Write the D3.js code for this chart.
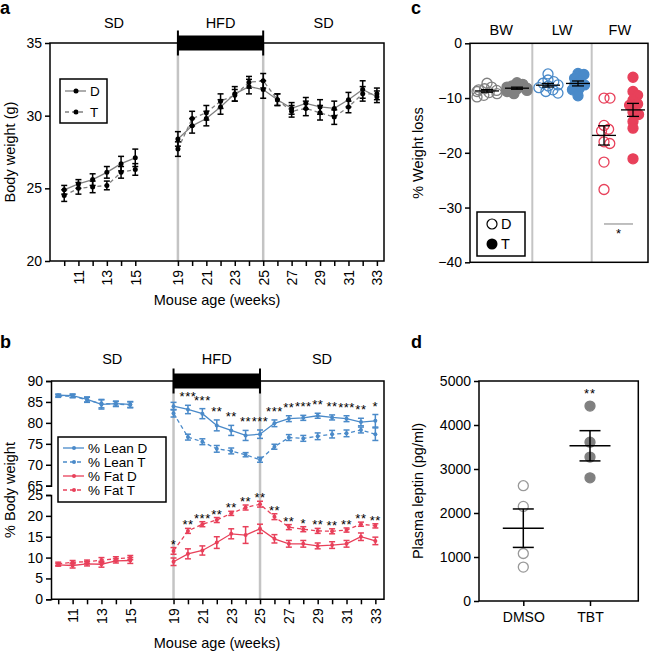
<!DOCTYPE html>
<html>
<head>
<meta charset="utf-8">
<script src="https://cdn.jsdelivr.net/npm/d3@7"></script>
<style>
  body { margin: 0; background: #fff; }
  svg { font-family: "Liberation Sans", Arial, sans-serif; }
  .axis text { font-size: 14px; fill: #000; }
  .axis path, .axis line { stroke: #000; stroke-width: 1.5px; }
</style>
</head>
<body>
<div id="chart"></div>
<script>
// Weeks on the x axis (16-18 are skipped)
var weeks = [10, 11, 12, 13, 14, 15, 19, 20, 21, 22, 23, 24, 25, 26, 27, 28, 29, 30, 31, 32, 33];

// Panel a - body weight (g)
var bodyD    = [24.9, 25.3, 25.6, 26.1, 26.7, 27.1, 28.4, 29.3, 29.8, 30.6, 31.5, 32.0, 31.8, 31.1, 30.5, 30.85, 30.6, 30.5, 31.1, 31.8, 31.3];
var bodyDErr = [0.3, 0.3, 0.4, 0.4, 0.5, 0.6, 0.5, 0.5, 0.5, 0.5, 0.5, 0.5, 0.6, 0.4, 0.4, 0.4, 0.5, 0.5, 0.5, 0.6, 0.4];
var bodyT    = [24.5, 25.0, 25.1, 25.2, 26.1, 26.3, 27.7, 29.8, 30.2, 31.0, 31.4, 32.3, 32.4, 31.1, 30.3, 30.5, 30.2, 29.9, 30.6, 31.5, 31.5];
var bodyTErr = [0.4, 0.4, 0.4, 0.3, 0.4, 0.4, 0.5, 0.5, 0.5, 0.5, 0.4, 0.4, 0.5, 0.4, 0.4, 0.5, 0.5, 0.5, 0.4, 0.5, 0.4];

// Panel b - % body weight
var leanD    = [86.6, 86.5, 85.6, 84.4, 84.6, 84.4, 84.0, 83.2, 82.2, 79.4, 78.2, 77.0, 77.3, 79.9, 81.0, 81.2, 81.7, 81.3, 81.0, 80.2, 80.5];
var leanDErr = [0.3, 0.4, 0.6, 1.1, 0.6, 0.7, 0.9, 1.0, 1.2, 1.3, 1.2, 1.2, 1.0, 0.8, 0.7, 0.6, 0.6, 0.6, 0.7, 0.9, 1.5];
var leanT    = [86.4, 86.4, 85.5, 84.6, 84.5, 84.3, 82.3, 76.6, 75.5, 73.8, 73.3, 72.4, 71.2, 74.3, 76.5, 76.3, 76.8, 77.3, 77.5, 78.3, 77.3];
var leanTErr = [0.3, 0.4, 0.6, 1.0, 0.6, 0.7, 0.9, 0.7, 0.7, 0.8, 0.7, 0.5, 0.6, 0.6, 0.7, 0.7, 0.8, 0.9, 0.8, 0.7, 1.5];
var fatD     = [8.25, 8.1, 8.5, 8.4, 9.2, 9.3, 9.0, 10.9, 11.7, 13.6, 15.7, 15.4, 16.9, 14.5, 13.3, 13.3, 12.8, 13.0, 13.3, 15.0, 14.0];
var fatDErr  = [0.3, 0.6, 0.5, 0.7, 0.5, 0.7, 0.9, 1.2, 1.1, 1.4, 1.2, 2.0, 1.1, 1.0, 0.8, 0.8, 0.7, 0.8, 0.8, 0.9, 0.9];
var fatT     = [8.5, 8.9, 9.0, 9.4, 9.7, 10.0, 11.6, 16.4, 18.0, 19.0, 20.6, 22.0, 22.8, 19.8, 17.3, 16.8, 16.4, 16.3, 16.6, 18.0, 17.6];
var fatTErr  = [0.4, 0.4, 0.4, 0.6, 0.5, 0.5, 0.8, 0.6, 0.6, 0.6, 0.5, 0.6, 0.7, 0.7, 0.6, 0.6, 0.6, 0.6, 0.5, 0.5, 0.5];
var leanStars = ["", "", "", "", "", "", "", "***", "***", "**", "**", "**", "***", "***", "**", "***", "**", "**", "***", "**", "*"];
var fatStars  = ["", "", "", "", "", "", "*", "**", "***", "**", "**", "**", "**", "**", "**", "*", "**", "**", "**", "**", "**"];

// Panel c - % weight loss
var bwLossD = [-7.3, -8.0, -8.3, -8.6, -8.8, -9.0, -9.2, -9.5, -9.8, -8.5];
var bwLossT = [-7.2, -7.5, -7.8, -8.0, -8.2, -8.4, -8.6, -8.8, -9.2, -8.3];
var lwLossD = [-5.6, -6.7, -7.0, -7.3, -7.6, -7.8, -8.1, -8.5, -9.1, -8.8];
var lwLossT = [-5.5, -5.7, -6.4, -6.9, -7.6, -7.5, -8.3, -8.5, -9.6];
var fwLossD = [-10.0, -10.0, -15.0, -15.7, -16.0, -18.0, -18.3, -21.7, -26.7];
var fwLossT = [-6.2, -8.8, -9.5, -10.4, -11.1, -11.3, -12.6, -13.0, -14.3, -15.5, -21.1];

// Panel d - plasma leptin (pg/ml)
var leptinGroups = ["DMSO", "TBT"];
var leptinDMSO = [2620, 2150, 1080, 770];
var leptinTBT  = [4430, 3610, 3270, 2800];

var blue = "#4a8ac9", red = "#e8405a", grey = "#808080", lightGrey = "#c4c4c4";

var svg = d3.select("#chart").append("svg")
    .attr("width", 650)
    .attr("height", 652);

function idx(w) { return w <= 15 ? w - 10 : w - 11; }

function panelLetter(t, x, y) {
    svg.append("text").attr("x", x).attr("y", y)
        .style("font-size", "18px").style("font-weight", "bold").text(t);
}

function label(g, t, x, y, size, anchor) {
    return g.append("text").attr("x", x).attr("y", y)
        .style("font-size", (size || 14.5) + "px")
        .style("text-anchor", anchor || "middle")
        .text(t);
}

function yLabel(g, t, x, y) {
    g.append("text")
        .attr("transform", "translate(" + x + "," + y + ") rotate(-90)")
        .attr("dy", "0.35em")
        .style("font-size", "14.5px")
        .style("text-anchor", "middle")
        .text(t);
}

// week axis shared by a and b
function weekAxis(g, x, yPos) {
    var ax = g.append("g").attr("class", "axis")
        .attr("transform", "translate(0," + yPos + ")")
        .call(d3.axisBottom(x)
            .tickValues(weeks.map(idx))
            .tickFormat(function(d, i) { return weeks[i] % 2 ? weeks[i] : ""; })
            .tickSize(5).tickSizeOuter(0));
    ax.select(".domain").remove();
    ax.selectAll("text")
        .attr("transform", "rotate(-90)")
        .attr("x", -9).attr("y", 0).attr("dy", "0.35em")
        .style("text-anchor", "end");
}

// diet header: SD / HFD / SD with black bar
function dietHeader(g, x, yTop, left, right, textY) {
    var x19 = x(idx(19)), x25 = x(idx(25));
    g.append("rect").attr("x", x19).attr("y", yTop - 7.5)
        .attr("width", x25 - x19).attr("height", 15).attr("fill", "#000");
    [x19, x25].forEach(function(xx) {
        g.append("line").attr("x1", xx).attr("x2", xx)
            .attr("y1", yTop - 12.5).attr("y2", yTop + 12.5)
            .attr("stroke", "#000").attr("stroke-width", 2);
    });
    label(g, "SD", (left + x19) / 2, textY);
    label(g, "HFD", (x19 + x25) / 2, textY);
    label(g, "SD", (x25 + right) / 2, textY);
}

function greyLines(g, x, y1, y2) {
    [19, 25].forEach(function(w) {
        g.append("line").attr("x1", x(idx(w))).attr("x2", x(idx(w)))
            .attr("y1", y1).attr("y2", y2)
            .attr("stroke", lightGrey).attr("stroke-width", 2.5);
    });
}

// series with error bars, split at the week gap
function drawSeries(g, x, y, vals, errs, o) {
    var pts = weeks.map(function(w, i) { return {w: w, v: vals[i], e: errs[i]}; });
    var segs = [pts.filter(function(p) { return p.w <= 15; }), pts.filter(function(p) { return p.w > 15; })];
    var line = d3.line().x(function(p) { return x(idx(p.w)); }).y(function(p) { return y(p.v); });
    segs.forEach(function(s) {
        g.append("path").datum(s).attr("d", line)
            .attr("fill", "none").attr("stroke", o.line)
            .attr("stroke-width", o.lw || 1.3)
            .attr("stroke-dasharray", o.dash || null);
    });
    var eb = g.selectAll(null).data(pts).enter().append("g")
        .attr("stroke", o.bar).attr("stroke-width", 1.5);
    eb.append("line")
        .attr("x1", function(p) { return x(idx(p.w)); }).attr("x2", function(p) { return x(idx(p.w)); })
        .attr("y1", function(p) { return y(p.v - p.e); }).attr("y2", function(p) { return y(p.v + p.e); });
    [-1, 1].forEach(function(s) {
        eb.append("line")
            .attr("x1", function(p) { return x(idx(p.w)) - 3; }).attr("x2", function(p) { return x(idx(p.w)) + 3; })
            .attr("y1", function(p) { return y(p.v + s * p.e); }).attr("y2", function(p) { return y(p.v + s * p.e); });
    });
    g.selectAll(null).data(pts).enter().append("circle")
        .attr("cx", function(p) { return x(idx(p.w)); })
        .attr("cy", function(p) { return y(p.v); })
        .attr("r", o.r || 2.5).attr("fill", o.bar);
}

function legendRow(g, x, y, color, dash, text, r) {
    g.append("line").attr("x1", x).attr("x2", x + 21).attr("y1", y).attr("y2", y)
        .attr("stroke", color).attr("stroke-width", 1.3).attr("stroke-dasharray", dash || null);
    g.append("circle").attr("cx", x + 11).attr("cy", y).attr("r", r).attr("fill", color === grey ? "#000" : color);
    g.append("text").attr("x", x + 25).attr("y", y).attr("dy", "0.36em")
        .style("font-size", "13.5px").text(text);
}

// ---------------- Panel a ----------------
var gA = svg.append("g");
var xA = d3.scaleLinear().domain([-1, 22.5]).range([50, 384]);
var yA = d3.scaleLinear().domain([20, 35]).range([261, 43]);

greyLines(gA, xA, 43, 261);
gA.append("rect").attr("x", 50).attr("y", 43).attr("width", 334).attr("height", 218)
    .attr("fill", "none").attr("stroke", "#000").attr("stroke-width", 1.5);
var ayA = gA.append("g").attr("class", "axis").attr("transform", "translate(50,0)")
    .call(d3.axisLeft(yA).tickValues([20, 25, 30, 35]).tickSize(5).tickSizeOuter(0));
ayA.select(".domain").remove();
weekAxis(gA, xA, 261);
dietHeader(gA, xA, 43, 50, 384, 28);

drawSeries(gA, xA, yA, bodyT, bodyTErr, {line: grey, bar: "#000", dash: "4,3"});
drawSeries(gA, xA, yA, bodyD, bodyDErr, {line: grey, bar: "#000"});

gA.append("rect").attr("x", 60).attr("y", 79).attr("width", 47).attr("height", 44)
    .attr("fill", "#fff").attr("stroke", "#000").attr("stroke-width", 1.5);
legendRow(gA, 65, 91, grey, null, "D", 2.5);
legendRow(gA, 65, 112, grey, "4,3", "T", 2.5);

yLabel(gA, "Body weight (g)", 10, 152);
label(gA, "Mouse age (weeks)", 217, 305, 14.5);
panelLetter("a", 0, 14);

// ---------------- Panel b ----------------
var gB = svg.append("g");
var xB = d3.scaleLinear().domain([-0.5, 22.6]).range([51, 384]);
var yLean = d3.scaleLinear().domain([65, 90]).range([485.7, 381]);
var yFat = d3.scaleLinear().domain([0, 25]).range([599.3, 495]);

greyLines(gB, xB, 381, 599.3);
gB.append("path")
    .attr("d", "M51,381H384V599.3H51")
    .attr("fill", "none").attr("stroke", "#000").attr("stroke-width", 1.5);
gB.append("g").attr("class", "axis").attr("transform", "translate(51,0)")
    .call(d3.axisLeft(yLean).tickValues([65, 70, 75, 80, 85, 90]).tickSize(5).tickSizeOuter(5));
gB.append("g").attr("class", "axis").attr("transform", "translate(51,0)")
    .call(d3.axisLeft(yFat).tickValues([0, 5, 10, 15, 20, 25]).tickSize(5).tickSizeOuter(5));
weekAxis(gB, xB, 599.3);
dietHeader(gB, xB, 381, 51, 384, 364);

drawSeries(gB, xB, yLean, leanT, leanTErr, {line: blue, bar: blue, dash: "4,3", r: 2});
drawSeries(gB, xB, yLean, leanD, leanDErr, {line: blue, bar: blue, r: 2});
drawSeries(gB, xB, yFat, fatT, fatTErr, {line: red, bar: red, dash: "4,3", r: 2});
drawSeries(gB, xB, yFat, fatD, fatDErr, {line: red, bar: red, r: 2});

// significance stars
weeks.forEach(function(w, i) {
    if (leanStars[i]) {
        gB.append("text").attr("x", xB(idx(w))).attr("y", yLean(leanD[i] + leanDErr[i]) - 4)
            .style("font-size", "13px").style("letter-spacing", "0.5px")
            .style("text-anchor", "middle").text(leanStars[i]);
    }
    if (fatStars[i]) {
        gB.append("text").attr("x", xB(idx(w))).attr("y", yFat(fatT[i] + fatTErr[i]) + 1)
            .style("font-size", "13px").style("letter-spacing", "0.5px")
            .style("text-anchor", "middle").text(fatStars[i]);
    }
});

gB.append("rect").attr("x", 58).attr("y", 437).attr("width", 108).attr("height", 65)
    .attr("fill", "#fff").attr("stroke", "#000").attr("stroke-width", 1.5);
legendRow(gB, 63, 448, blue, null, "% Lean D", 2);
legendRow(gB, 63, 462, blue, "4,3", "% Lean T", 2);
legendRow(gB, 63, 476, red, null, "% Fat D", 2);
legendRow(gB, 63, 490, red, "4,3", "% Fat T", 2);

yLabel(gB, "% Body weight", 10, 490);
label(gB, "Mouse age (weeks)", 217, 648, 14.5);
panelLetter("b", 0, 348);

// ---------------- Panel c ----------------
var gC = svg.append("g");
var yC = d3.scaleLinear().domain([-40, 0]).range([262.3, 43.3]);
var cLeft = 470, cRight = 648;
var sep1 = 532.3, sep2 = 591.7;

[sep1, sep2].forEach(function(s) {
    gC.append("line").attr("x1", s).attr("x2", s).attr("y1", 43.3).attr("y2", 262.3)
        .attr("stroke", lightGrey).attr("stroke-width", 2);
});
gC.append("rect").attr("x", cLeft).attr("y", 43.3).attr("width", cRight - cLeft).attr("height", 219)
    .attr("fill", "none").attr("stroke", "#000").attr("stroke-width", 1.5);
var ayC = gC.append("g").attr("class", "axis").attr("transform", "translate(" + cLeft + ",0)")
    .call(d3.axisLeft(yC).tickValues([-40, -30, -20, -10, 0]).tickSize(5)
        .tickFormat(function(d) { return d < 0 ? "\u2212" + Math.abs(d) : d; }));
ayC.select(".domain").remove();

label(gC, "BW", (cLeft + sep1) / 2, 35);
label(gC, "LW", (sep1 + sep2) / 2, 35);
label(gC, "FW", (sep2 + cRight) / 2, 35);

var cGroups = [
    {vals: bwLossD, cx: 487, color: grey, open: true},
    {vals: bwLossT, cx: 517, color: grey, open: false},
    {vals: lwLossD, cx: 548, color: blue, open: true},
    {vals: lwLossT, cx: 578, color: blue, open: false},
    {vals: fwLossD, cx: 604, color: red, open: true},
    {vals: fwLossT, cx: 633, color: red, open: false}
];

// simple beeswarm so the dots spread sideways (clamped to the column)
function swarm(vals, cx, y, dmin, maxOff) {
    var placed = [];
    vals.slice().sort(d3.descending).forEach(function(v) {
        var py = y(v);
        var cands = [0];
        placed.forEach(function(q) {
            var dy = Math.abs(q.y - py);
            if (dy < dmin) {
                var dx = Math.sqrt(dmin * dmin - dy * dy);
                cands.push(q.dx + dx, q.dx - dx);
            }
        });
        cands.sort(function(a, b) { return Math.abs(a) - Math.abs(b); });
        var best = cands.find(function(c) {
            return placed.every(function(q) {
                return Math.hypot(q.dx - c, q.y - py) >= dmin - 0.01;
            });
        });
        best = Math.max(-maxOff, Math.min(maxOff, best));
        placed.push({dx: best, y: py, v: v});
    });
    return placed.map(function(p) { return {x: cx + p.dx, y: p.y}; });
}

cGroups.forEach(function(grp) {
    var pts = swarm(grp.vals, grp.cx, yC, 6, 10);
    gC.selectAll(null).data(pts).enter().append("circle")
        .attr("cx", function(p) { return p.x; }).attr("cy", function(p) { return p.y; })
        .attr("r", 5)
        .attr("fill", grp.open ? "none" : grp.color)
        .attr("stroke", grp.color).attr("stroke-width", 1.3);
    var m = d3.mean(grp.vals), se = d3.deviation(grp.vals) / Math.sqrt(grp.vals.length);
    var eg = gC.append("g").attr("stroke", "#000").attr("stroke-width", 1.3);
    eg.append("line").attr("x1", grp.cx - 12).attr("x2", grp.cx + 12).attr("y1", yC(m)).attr("y2", yC(m));
    eg.append("line").attr("x1", grp.cx).attr("x2", grp.cx).attr("y1", yC(m - se)).attr("y2", yC(m + se));
    [m - se, m + se].forEach(function(v) {
        eg.append("line").attr("x1", grp.cx - 6).attr("x2", grp.cx + 6).attr("y1", yC(v)).attr("y2", yC(v));
    });
});

gC.append("line").attr("x1", 604).attr("x2", 633).attr("y1", yC(-33)).attr("y2", yC(-33))
    .attr("stroke", "#aaa").attr("stroke-width", 1.5);
label(gC, "*", 618.5, yC(-33) + 14, 13);

gC.append("rect").attr("x", 477).attr("y", 212).attr("width", 48).attr("height", 44)
    .attr("fill", "#fff").attr("stroke", "#000").attr("stroke-width", 1.5);
gC.append("circle").attr("cx", 492).attr("cy", 224).attr("r", 5)
    .attr("fill", "none").attr("stroke", "#000").attr("stroke-width", 1.2);
gC.append("circle").attr("cx", 492).attr("cy", 244).attr("r", 5.5).attr("fill", "#000");
label(gC, "D", 501, 229, 14.5, "start");
label(gC, "T", 501, 249, 14.5, "start");

yLabel(gC, "% Weight loss", 418, 153);
panelLetter("c", 411, 14);

// ---------------- Panel d ----------------
var gD = svg.append("g");
var xD = d3.scalePoint().domain(leptinGroups).range([523.3, 590]);
var yD = d3.scaleLinear().domain([0, 5000]).range([601, 381]);

gD.append("rect").attr("x", 479).attr("y", 381).attr("width", 159.3).attr("height", 220)
    .attr("fill", "none").attr("stroke", "#000").attr("stroke-width", 1.5);
var ayD = gD.append("g").attr("class", "axis").attr("transform", "translate(479,0)")
    .call(d3.axisLeft(yD).tickValues([0, 1000, 2000, 3000, 4000, 5000]).tickSize(5)
        .tickFormat(d3.format("d")));
ayD.select(".domain").remove();
var axD = gD.append("g").attr("class", "axis").attr("transform", "translate(0,601)")
    .call(d3.axisBottom(xD).tickSize(5).tickPadding(6));
axD.select(".domain").remove();
axD.selectAll("text").style("font-size", "14px");

[{name: "DMSO", vals: leptinDMSO, open: true}, {name: "TBT", vals: leptinTBT, open: false}].forEach(function(grp) {
    var cx = xD(grp.name);
    gD.selectAll(null).data(grp.vals).enter().append("circle")
        .attr("cx", cx).attr("cy", function(v) { return yD(v); })
        .attr("r", 5)
        .attr("fill", grp.open ? "none" : grey)
        .attr("stroke", grp.open ? "#999" : grey).attr("stroke-width", 1.3);
    var m = d3.mean(grp.vals), se = d3.deviation(grp.vals) / Math.sqrt(grp.vals.length);
    var eg = gD.append("g").attr("stroke", "#000").attr("stroke-width", 1.5);
    eg.append("line").attr("x1", cx - 20.5).attr("x2", cx + 20.5).attr("y1", yD(m)).attr("y2", yD(m));
    eg.append("line").attr("x1", cx).attr("x2", cx).attr("y1", yD(m - se)).attr("y2", yD(m + se));
    [m - se, m + se].forEach(function(v) {
        eg.append("line").attr("x1", cx - 10.5).attr("x2", cx + 10.5).attr("y1", yD(v)).attr("y2", yD(v));
    });
});
label(gD, "**", xD("TBT"), 398, 13).style("letter-spacing", "1px");

yLabel(gD, "Plasma leptin (pg/ml)", 418, 491);
panelLetter("d", 411, 348);
</script>
</body>
</html>
